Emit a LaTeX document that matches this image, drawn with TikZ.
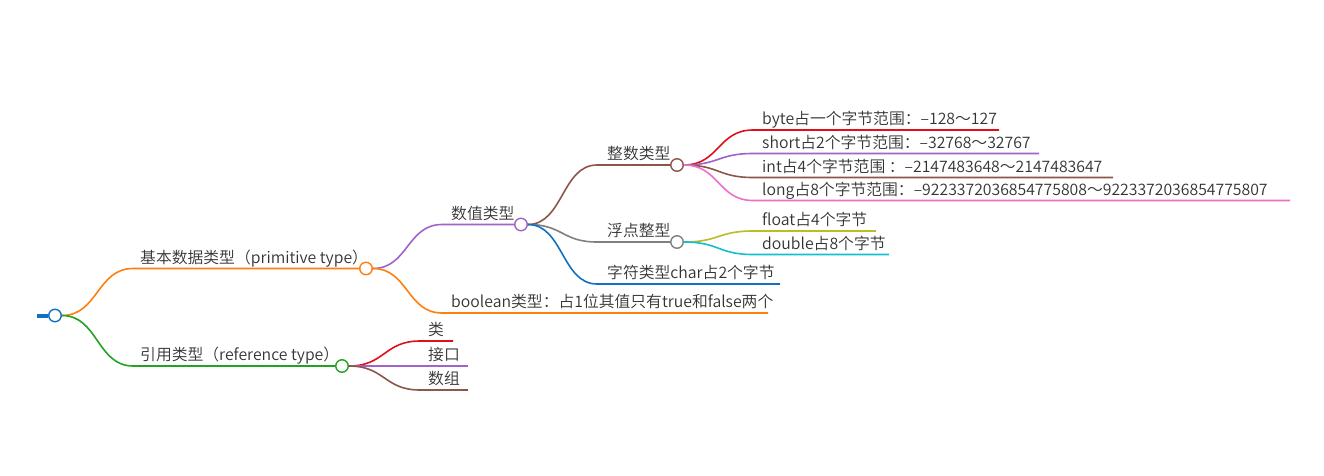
\documentclass[tikz,border=0pt]{standalone}
\usepackage{fontspec}
\setmainfont{Noto Sans CJK SC DemiLight}
\definecolor{txt}{HTML}{333333}
\definecolor{cblue}{HTML}{1170C0}
\definecolor{corange}{HTML}{FF7F0E}
\definecolor{cgreen}{HTML}{22A322}
\definecolor{cpurple}{HTML}{A064C8}
\definecolor{cbrown}{HTML}{8C564B}
\definecolor{cgray}{HTML}{808080}
\definecolor{cred}{HTML}{E0101A}
\definecolor{cpink}{HTML}{EE6EC8}
\definecolor{colive}{HTML}{BCBD22}
\definecolor{ccyan}{HTML}{17BECF}
\begin{document}
\begin{tikzpicture}[x=1pt,y=-1pt,
  dot/.style={circle, draw, fill=white, line width=1.4pt, minimum size=12.5pt, inner sep=0pt},
  lbl/.style={anchor=base west, inner sep=0pt, text=txt, font=\fontsize{15.8}{19}\selectfont},
  edge/.style={line width=1.6pt}]
\useasboundingbox (0,0) rectangle (1324,476);
% junction nodes
\node[dot, draw=cblue] (root) at (55,315.5) {};
\node[dot, draw=corange] (n1) at (366,268.5) {};
\node[dot, draw=cgreen] (g1) at (342,366) {};
\node[dot, draw=cpurple] (n2) at (521,224.5) {};
\node[dot, draw=cbrown] (n3) at (677,165) {};
\node[dot, draw=cgray] (n4) at (677,242) {};
% coordinates
\coordinate (stub) at (37,315.5);
\coordinate (h1) at (133,268.5);
\coordinate (h2) at (133,366);
\coordinate (hnum) at (442,224.5);
\coordinate (hbool) at (442,313);   \coordinate (ebool) at (768,313);
\coordinate (hint) at (597,165);
\coordinate (hflt) at (597,242);
\coordinate (hchar) at (597,284);   \coordinate (echar) at (780,284);
\coordinate (hbyte) at (753,130);   \coordinate (ebyte) at (999,130);
\coordinate (hshort) at (753,153.5);\coordinate (eshort) at (1039,153.5);
\coordinate (hinti) at (753,177.5); \coordinate (einti) at (1113,177.5);
\coordinate (hlong) at (753,200.5); \coordinate (elong) at (1290,200.5);
\coordinate (hfloat) at (753,231);  \coordinate (efloat) at (876,231);
\coordinate (hdbl) at (753,254.5);  \coordinate (edbl) at (889,254.5);
\coordinate (hcls) at (420,341);    \coordinate (ecls) at (453,341);
\coordinate (hitf) at (420,366);    \coordinate (eitf) at (468,366);
\coordinate (harr) at (420,390);    \coordinate (earr) at (468,390);
% connectors
\draw[cblue, line width=4pt] (stub) -- (root.west);
\draw[edge, corange] (root.east) .. controls +(36,0) and +(-36,0) .. (h1) -- (n1.west);
\draw[edge, cgreen] (root.east) .. controls +(36,0) and +(-36,0) .. (h2) -- (g1.west);
\draw[edge, cpurple] (n1.east) .. controls +(35,0) and +(-35,0) .. (hnum) -- (n2.west);
\draw[edge, corange] (n1.east) .. controls +(35,0) and +(-35,0) .. (hbool) -- (ebool);
\draw[edge, cbrown] (n2.east) .. controls +(35,0) and +(-35,0) .. (hint) -- (n3.west);
\draw[edge, cgray] (n2.east) .. controls +(35,0) and +(-35,0) .. (hflt) -- (n4.west);
\draw[edge, cblue] (n2.east) .. controls +(35,0) and +(-35,0) .. (hchar) -- (echar);
\draw[edge, cred] (n3.east) .. controls +(35,0) and +(-35,0) .. (hbyte) -- (ebyte);
\draw[edge, cpurple] (n3.east) .. controls +(35,0) and +(-35,0) .. (hshort) -- (eshort);
\draw[edge, cbrown] (n3.east) .. controls +(35,0) and +(-35,0) .. (hinti) -- (einti);
\draw[edge, cpink] (n3.east) .. controls +(35,0) and +(-35,0) .. (hlong) -- (elong);
\draw[edge, colive] (n4.east) .. controls +(35,0) and +(-35,0) .. (hfloat) -- (efloat);
\draw[edge, ccyan] (n4.east) .. controls +(35,0) and +(-35,0) .. (hdbl) -- (edbl);
\draw[edge, cred] (g1.east) .. controls +(36,0) and +(-36,0) .. (hcls) -- (ecls);
\draw[edge, cpurple] (g1.east) .. controls +(36,0) and +(-36,0) .. (hitf) -- (eitf);
\draw[edge, cbrown] (g1.east) .. controls +(36,0) and +(-36,0) .. (harr) -- (earr);
% labels
\node[lbl] (tprim) at (140,263) {基本数据类型（primitive type）};
\node[lbl] (tref) at (140,360.5) {引用类型（reference type）};
\node[lbl] (tnum) at (451,219) {数值类型};
\node[lbl] (tbool) at (451,307.5) {boolean类型：占1位其值只有true和false两个};
\node[lbl] (tint) at (607,159.5) {整数类型};
\node[lbl] (tflt) at (607,236.5) {浮点整型};
\node[lbl] (tchar) at (607,278.5) {字符类型char占2个字节};
\node[lbl] (tbyte) at (762,124.5) {byte占一个字节范围：–128～127};
\node[lbl] (tshort) at (762,148) {short占2个字节范围：–32768～32767};
\node[lbl] (tinti) at (762,172) {int占4个字节范围 ：–2147483648～2147483647};
\node[lbl] (tlong) at (762,195) {long占8个字节范围：–9223372036854775808～9223372036854775807};
\node[lbl] (tfloat) at (762,225.5) {float占4个字节};
\node[lbl] (tdbl) at (762,249) {double占8个字节};
\node[lbl] (tcls) at (428,335.5) {类};
\node[lbl] (titf) at (428,360.5) {接口};
\node[lbl] (tarr) at (428,384.5) {数组};
\end{tikzpicture}
\end{document}
